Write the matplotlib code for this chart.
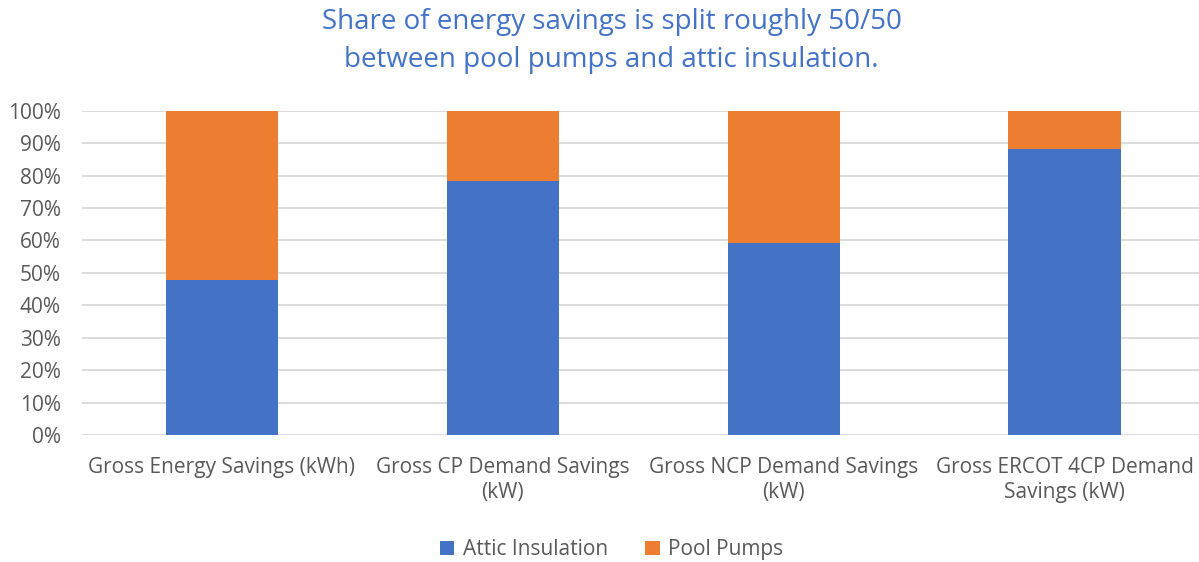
import numpy as np
import matplotlib.pyplot as plt
from matplotlib.ticker import PercentFormatter

plt.rcParams['font.family'] = ['Open Sans', 'DejaVu Sans']

categories = ['Gross Energy Savings (kWh)', 'Gross CP Demand Savings\n(kW)',
              'Gross NCP Demand Savings\n(kW)', 'Gross ERCOT 4CP Demand\nSavings (kW)']
attic = [47.8, 78.4, 59.3, 88.3]
pool = [100 - v for v in attic]

blue = '#4472C4'
orange = '#ED7D31'
grey = '#595959'

fig = plt.figure(figsize=(11.99, 5.62), dpi=100)
ax = fig.add_axes([0.068, 0.226, 0.937, 0.577])

x = np.arange(len(categories))
ax.bar(x, attic, width=0.4, color=blue, label='Attic Insulation', zorder=3)
ax.bar(x, pool, width=0.4, bottom=attic, color=orange, label='Pool Pumps', zorder=3)

ax.set_xlim(-0.5, 3.5)
ax.set_ylim(0, 100)
ax.set_yticks(np.arange(0, 101, 10))
ax.yaxis.set_major_formatter(PercentFormatter(decimals=0))
ax.grid(axis='y', color='#D9D9D9', lw=1.3, zorder=0)
ax.set_axisbelow(True)
for s in ax.spines.values():
    s.set_visible(False)
ax.tick_params(axis='both', length=0, labelsize=15, colors=grey)
ax.tick_params(axis='y', pad=15)
ax.tick_params(axis='x', pad=16)
ax.set_xticks(x)
ax.set_xticklabels(categories, linespacing=1.25)

fig.text(0.51, 0.985, 'Share of energy savings is split roughly 50/50\nbetween pool pumps and attic insulation.',
         ha='center', va='top', fontsize=20, color=blue, linespacing=1.45)

fig.legend(loc='lower center', bbox_to_anchor=(0.51, -0.03), ncol=2, frameon=False,
           fontsize=15, labelcolor=grey, handlelength=0.7, handleheight=0.7,
           handletextpad=0.4, columnspacing=1.8)

fig.savefig('out.png', dpi=100)
